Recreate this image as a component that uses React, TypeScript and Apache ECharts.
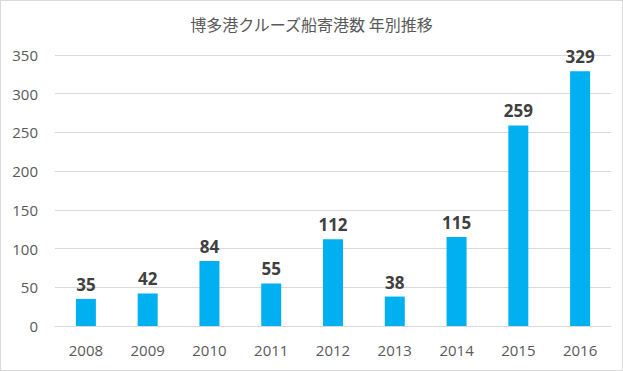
import React, { useEffect, useRef } from "react";
import * as echarts from "echarts";

const categories = ["2008", "2009", "2010", "2011", "2012", "2013", "2014", "2015", "2016"];
const values = [35, 42, 84, 55, 112, 38, 115, 259, 329];
const titleText = "博多港クルーズ船寄港数 年別推移";

export default function App() {
  const ref = useRef<HTMLDivElement>(null);
  useEffect(() => {
    const chart = echarts.init(ref.current!, null, { renderer: "svg" });
    chart.setOption({
      animation: false,
      backgroundColor: "#ffffff",
      title: {
        text: titleText,
        left: "center",
        top: 10,
        textStyle: { fontFamily: "Noto Sans CJK JP", fontSize: 16, fontWeight: "normal", color: "#595959" },
      },
      grid: { left: 54, right: 11, top: 54, bottom: 44 },
      xAxis: {
        type: "category",
        data: categories,
        axisLine: { show: true, lineStyle: { color: "#d9d9d9" } },
        axisTick: { show: false },
        axisLabel: { color: "#595959", fontSize: 15, fontFamily: "Open Sans", margin: 16 },
      },
      yAxis: {
        type: "value",
        min: 0,
        max: 350,
        interval: 50,
        axisLine: { show: false },
        axisTick: { show: false },
        splitLine: { lineStyle: { color: "#d9d9d9" } },
        axisLabel: { color: "#595959", fontSize: 15, fontFamily: "Open Sans", margin: 17 },
      },
      series: [
        {
          type: "bar",
          data: values,
          barWidth: 20,
          itemStyle: { color: "#00b0f0" },
          label: {
            show: true,
            position: "top",
            distance: 6,
            color: "#404040",
            fontSize: 17,
            fontWeight: "bold",
            fontFamily: "Open Sans",
          },
        },
      ],
    });
    return () => chart.dispose();
  }, []);
  return (
    <div
      style={{
        position: "fixed",
        left: 0,
        top: 0,
        width: 623,
        height: 371,
        boxSizing: "border-box",
        border: "1px solid #d9d9d9",
      }}
    >
      <div ref={ref} style={{ width: 621, height: 369 }} />
    </div>
  );
}
